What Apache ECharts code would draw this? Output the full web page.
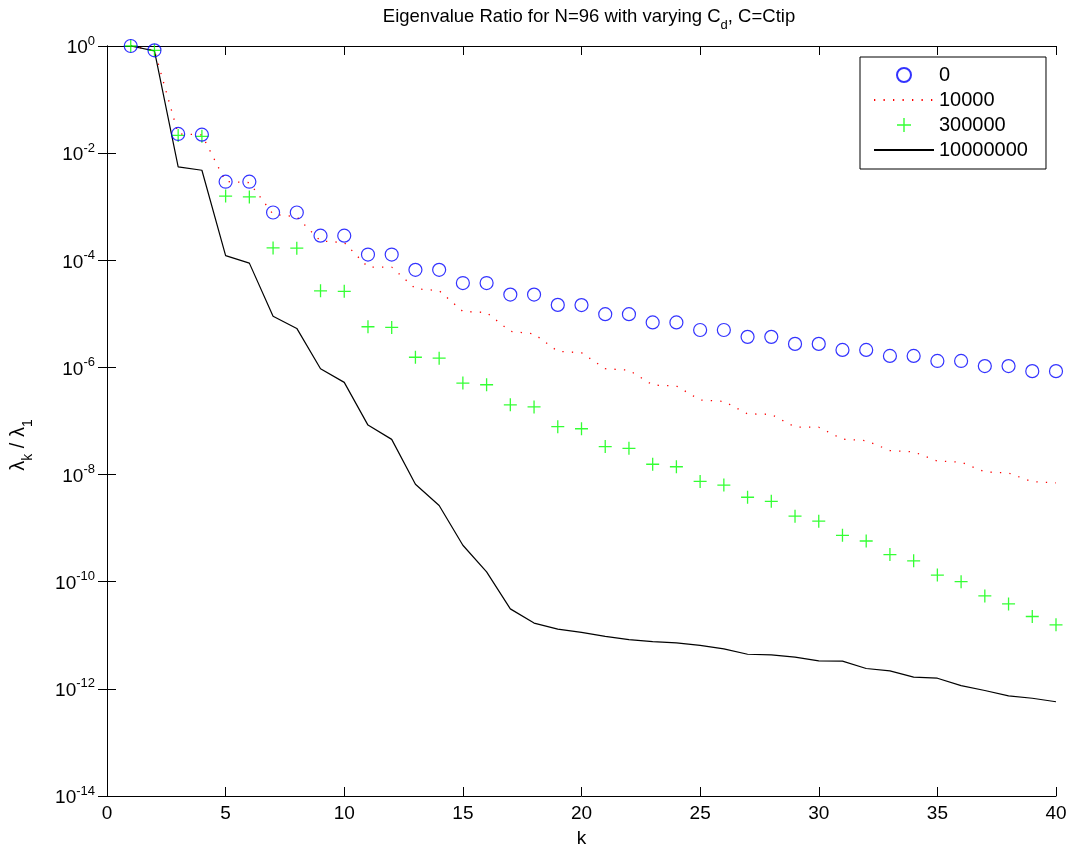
<!DOCTYPE html>
<html lang="en">
<head>
<meta charset="UTF-8"/>
<title>Eigenvalue Ratio for N=96</title>
<style>
    * { margin: 0; padding: 0; }
    body { background: #fff; }
    #chart { width: 1072px; height: 853px; }
</style>
<script src="https://cdn.jsdelivr.net/npm/echarts@6/dist/echarts.min.js"></script>
</head>
<body>
<div id="chart"></div>
<script>
    // eigenvalue index
    const k = [1, 2, 3, 4, 5, 6, 7, 8, 9, 10, 11, 12, 13, 14, 15, 16, 17, 18, 19, 20,
        21, 22, 23, 24, 25, 26, 27, 28, 29, 30, 31, 32, 33, 34, 35, 36, 37, 38, 39, 40];

    const seriesNames = ["0", "10000", "300000", "10000000"];

    // lambda_k / lambda_1 for each Cd
    const ratioCd0 = [1, 0.83, 2.28e-2, 2.21e-2, 2.93e-3, 2.93e-3, 7.8e-4, 7.8e-4, 2.88e-4, 2.88e-4,
        1.28e-4, 1.28e-4, 6.64e-5, 6.64e-5, 3.76e-5, 3.76e-5, 2.29e-5, 2.29e-5, 1.47e-5, 1.46e-5,
        9.86e-6, 9.86e-6, 6.92e-6, 6.92e-6, 5.0e-6, 5.0e-6, 3.72e-6, 3.72e-6, 2.75e-6, 2.75e-6,
        2.12e-6, 2.12e-6, 1.64e-6, 1.64e-6, 1.32e-6, 1.32e-6, 1.06e-6, 1.06e-6, 8.53e-7, 8.53e-7];

    const ratioCd1e4 = [1, 0.83, 2.29e-2, 2.19e-2, 2.95e-3, 2.82e-3, 7.24e-4, 6.46e-4, 2.29e-4, 2.14e-4,
        7.45e-5, 7.45e-5, 2.95e-5, 2.71e-5, 1.11e-5, 1.06e-5, 4.71e-6, 4.23e-6, 2.0e-6, 1.88e-6,
        9.48e-7, 8.91e-7, 4.69e-7, 4.5e-7, 2.47e-7, 2.32e-7, 1.36e-7, 1.33e-7, 7.71e-8, 7.64e-8,
        4.58e-8, 4.3e-8, 2.81e-8, 2.65e-8, 1.79e-8, 1.71e-8, 1.12e-8, 1.07e-8, 7.36e-9, 7.0e-9];

    const ratioCd3e5 = [1, 0.83, 2.14e-2, 2.06e-2, 1.58e-3, 1.52e-3, 1.7e-4, 1.68e-4, 2.69e-5, 2.63e-5,
        5.74e-6, 5.58e-6, 1.55e-6, 1.49e-6, 5.1e-7, 4.75e-7, 2.0e-7, 1.83e-7, 7.82e-8, 7.16e-8,
        3.33e-8, 3.09e-8, 1.56e-8, 1.4e-8, 7.46e-9, 6.37e-9, 3.77e-9, 3.16e-9, 1.67e-9, 1.35e-9,
        7.35e-10, 5.75e-10, 3.21e-10, 2.45e-10, 1.33e-10, 1.0e-10, 5.43e-11, 3.85e-11, 2.24e-11, 1.57e-11];

    const ratioCd1e7 = [1, 0.81, 5.56e-3, 4.79e-3, 1.22e-4, 8.85e-5, 9.04e-6, 5.35e-6, 9.42e-7, 5.26e-7,
        8.39e-8, 4.54e-8, 6.61e-9, 2.64e-9, 4.79e-10, 1.53e-10, 3.11e-11, 1.69e-11, 1.3e-11, 1.13e-11,
        9.55e-12, 8.32e-12, 7.59e-12, 7.24e-12, 6.46e-12, 5.56e-12, 4.43e-12, 4.3e-12, 3.9e-12, 3.33e-12,
        3.29e-12, 2.4e-12, 2.17e-12, 1.66e-12, 1.58e-12, 1.15e-12, 9.33e-13, 7.41e-13, 6.68e-13, 5.75e-13];

    const font = "Liberation Sans, Arial, Helvetica, sans-serif";
    const plusPath = "path://M45,0 H55 V45 H100 V55 H55 V100 H45 V55 H0 V45 H45 Z";
    const noFill = "rgba(0,0,0,0)";

    function pairs(arr) {
        return k.map((x, i) => [x, arr[i]]);
    }

    const dom = document.getElementById("chart");
    const myChart = echarts.init(dom);

    const tickStyle = { show: true, inside: true, length: 9, lineStyle: { color: "#000", width: 1 } };
    const lineAxis = { show: true, lineStyle: { color: "#000", width: 1 } };

    const option = {
        backgroundColor: "#fff",
        animation: false,
        title: {
            text: "{a|Eigenvalue Ratio for N=96 with varying C}{d|d}{a|, C=Ctip}",
            left: 584,
            top: 2,
            textAlign: "center",
            textStyle: {
                fontWeight: "normal",
                rich: {
                    a: { fontFamily: font, fontSize: 18.5, fontWeight: "normal", color: "#000", verticalAlign: "top", lineHeight: 25 },
                    d: { fontFamily: font, fontSize: 13, fontWeight: "normal", color: "#000", verticalAlign: "bottom", lineHeight: 25 }
                }
            }
        },
        grid: { left: 103, right: 16, top: 46, bottom: 53 },
        legend: {
            orient: "vertical",
            left: 860,
            top: 57,
            padding: [8, 18, 9, 13],
            itemWidth: 60,
            itemHeight: 14,
            itemGap: 5,
            borderColor: "#000",
            borderWidth: 1,
            borderRadius: 0,
            backgroundColor: "#fff",
            data: seriesNames,
            textStyle: { fontFamily: font, fontSize: 20, color: "#000" }
        },
        xAxis: [
            {
                type: "value",
                min: 0, max: 40, interval: 5,
                position: "bottom",
                name: "k",
                nameLocation: "middle",
                nameGap: 33,
                nameTextStyle: { fontFamily: font, fontSize: 19, color: "#000" },
                axisLine: lineAxis,
                axisTick: tickStyle,
                axisLabel: { fontFamily: font, fontSize: 19, color: "#000", margin: 8 },
                splitLine: { show: false }
            },
            {
                type: "value",
                min: 0, max: 40, interval: 5,
                position: "top",
                axisLine: lineAxis,
                axisTick: tickStyle,
                axisLabel: { show: false },
                splitLine: { show: false }
            }
        ],
        yAxis: [
            {
                type: "log",
                logBase: 10,
                min: 1e-14, max: 1, interval: 2,
                position: "left",
                name: "{a|λ}{s|k}{a| / λ}{s|1}",
                nameLocation: "middle",
                nameGap: 72,
                nameRotate: 90,
                nameTextStyle: {
                    padding: [0, 48, 0, 0],
                    rich: {
                        a: { fontFamily: font, fontSize: 20, color: "#000", verticalAlign: "top", lineHeight: 27 },
                        s: { fontFamily: font, fontSize: 14, color: "#000", verticalAlign: "bottom", lineHeight: 27 }
                    }
                },
                axisLine: lineAxis,
                axisTick: tickStyle,
                axisLabel: {
                    margin: 12,
                    formatter: function (v) {
                        return "{b|10}{e|" + Math.round(Math.log10(v)) + "}";
                    },
                    rich: {
                        b: { fontFamily: font, fontSize: 19, color: "#000", verticalAlign: "bottom", lineHeight: 23 },
                        e: { fontFamily: font, fontSize: 13, color: "#000", verticalAlign: "top", lineHeight: 23 }
                    }
                },
                splitLine: { show: false }
            },
            {
                type: "log",
                logBase: 10,
                min: 1e-14, max: 1, interval: 2,
                position: "right",
                axisLine: lineAxis,
                axisTick: tickStyle,
                axisLabel: { show: false },
                splitLine: { show: false }
            }
        ],
        series: [
            {
                name: seriesNames[0],
                type: "scatter",
                symbol: "circle",
                symbolSize: 13,
                clip: false,
                itemStyle: { color: noFill, borderColor: "#0000ff", borderWidth: 1.2 },
                data: pairs(ratioCd0),
                z: 3
            },
            {
                name: seriesNames[1],
                type: "line",
                symbol: "none",
                clip: false,
                lineStyle: { color: "#ff0000", width: 1.3, type: [1.3, 8.2] },
                itemStyle: { color: noFill, borderWidth: 0 },
                data: pairs(ratioCd1e4),
                z: 2
            },
            {
                name: seriesNames[2],
                type: "scatter",
                symbol: plusPath,
                symbolSize: 13,
                clip: false,
                itemStyle: { color: "#00ff00" },
                data: pairs(ratioCd3e5),
                z: 2
            },
            {
                name: seriesNames[3],
                type: "line",
                symbol: "none",
                clip: false,
                lineStyle: { color: "#000", width: 1.2 },
                itemStyle: { color: noFill, borderWidth: 0 },
                data: pairs(ratioCd1e7),
                z: 2
            }
        ]
    };

    myChart.setOption(option);
</script>
</body>
</html>
